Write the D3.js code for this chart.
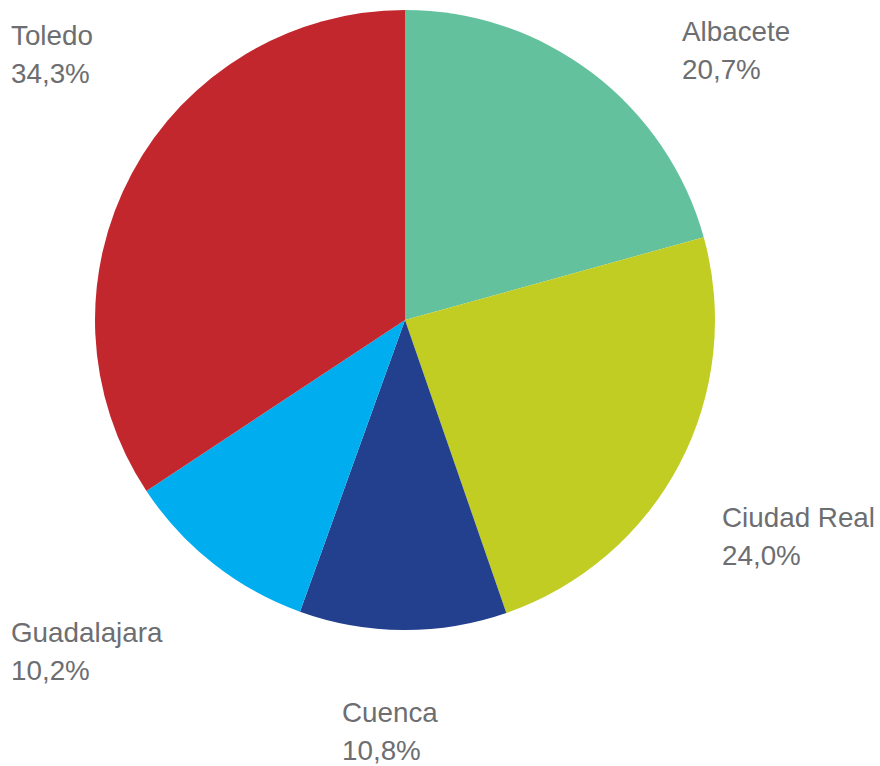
<!DOCTYPE html>
<html>
<head>
<meta charset="utf-8">
<script src="https://cdn.jsdelivr.net/npm/d3@7"></script>
<style>
  html, body { margin: 0; padding: 0; background: #ffffff; }
  svg { display: block; }
</style>
</head>
<body>
<svg id="chart" width="880" height="766"></svg>
<script>
// ---- data ----
const categories = ["Albacete", "Ciudad Real", "Cuenca", "Guadalajara", "Toledo"];
const shares = [20.7, 24.0, 10.8, 10.2, 34.3];
const colors = ["#63c29d", "#c2cd23", "#23408e", "#00aeef", "#c1272d"];

// ---- layout ----
const width = 880, height = 766;
const cx = 405, cy = 320, radius = 310;
const fontSize = 27.8, lineGap = 38, textColor = "#6d6e71";
// label anchors (left x, first baseline y)
const labelAnchors = [[682, 41], [722, 527], [342, 722], [11, 642], [11, 45]];

const svg = d3.select("#chart");
const data = categories.map((c, i) => ({ name: c, value: shares[i], color: colors[i] }));

const pie = d3.pie().value(d => d.value).sort(null);
const arc = d3.arc().innerRadius(0).outerRadius(radius);

const g = svg.append("g").attr("transform", `translate(${cx},${cy})`);
g.selectAll("path")
  .data(pie(data))
  .join("path")
  .attr("d", arc)
  .attr("fill", d => d.data.color);

const fmt = v => v.toFixed(1).replace(".", ",") + "%";

const labels = svg.append("g")
  .attr("font-family", "'Liberation Sans', Arial, Helvetica, sans-serif")
  .attr("font-size", fontSize)
  .attr("fill", textColor);

data.forEach((d, i) => {
  const [x, y] = labelAnchors[i];
  const t = labels.append("text").attr("x", x).attr("y", y);
  t.append("tspan").attr("x", x).attr("y", y).text(d.name);
  t.append("tspan").attr("x", x).attr("y", y + lineGap).text(fmt(d.value));
});
</script>
</body>
</html>
